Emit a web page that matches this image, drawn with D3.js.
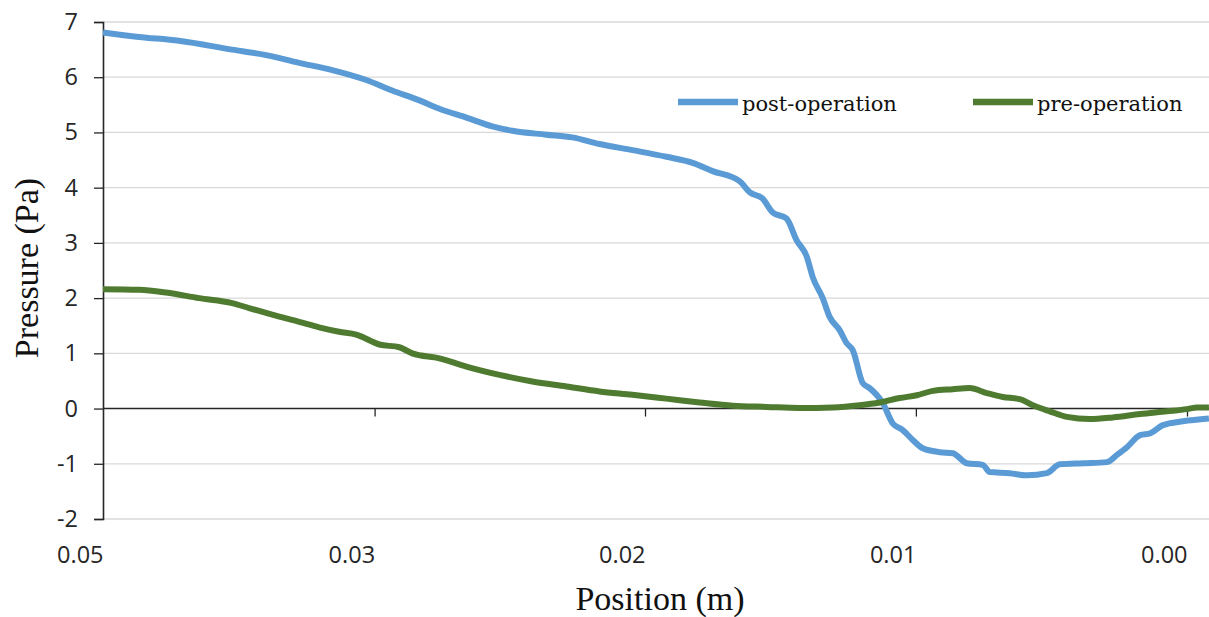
<!DOCTYPE html>
<html>
<head>
<meta charset="utf-8">
<script src="https://cdn.jsdelivr.net/npm/d3@7"></script>
<style>
body { margin: 0; background: #fff; }
svg { display: block; }
</style>
</head>
<body>
<svg id="chart" width="1209" height="617"></svg>
<script>
// positions (m) and pressures (Pa)
const postPos = [0.04550, 0.04399, 0.04231, 0.04008, 0.03865, 0.03727, 0.03588, 0.03445, 0.03336, 0.03222,
  0.03138, 0.03025, 0.02916, 0.02832, 0.02689, 0.02580, 0.02466, 0.02328, 0.02185, 0.02075,
  0.01991, 0.01878, 0.01836, 0.01781, 0.01739, 0.01681, 0.01639, 0.01596, 0.01571, 0.01529,
  0.01500, 0.01458, 0.01428, 0.01403, 0.01361, 0.01332, 0.01277, 0.01235, 0.01193, 0.01151,
  0.01109, 0.01038, 0.00983, 0.00924, 0.00857, 0.00828, 0.00744, 0.00672, 0.00588, 0.00534,
  0.00437, 0.00336, 0.00294, 0.00252, 0.00197, 0.00155, 0.00101, 0.00017, -0.00092];
const postP = [6.81, 6.73, 6.66, 6.50, 6.40, 6.26, 6.13, 5.95, 5.76, 5.58,
  5.43, 5.27, 5.11, 5.03, 4.96, 4.91, 4.79, 4.68, 4.56, 4.45,
  4.30, 4.12, 3.92, 3.80, 3.55, 3.44, 3.05, 2.75, 2.38, 2.00,
  1.66, 1.42, 1.18, 1.06, 0.46, 0.37, 0.10, -0.27, -0.39, -0.57,
  -0.72, -0.79, -0.81, -0.99, -1.02, -1.15, -1.17, -1.21, -1.17, -1.01,
  -0.99, -0.97, -0.84, -0.70, -0.48, -0.45, -0.30, -0.23, -0.18];

const prePos = [0.04550, 0.04399, 0.04285, 0.04147, 0.04008, 0.03937, 0.03840, 0.03727, 0.03643, 0.03559,
  0.03487, 0.03390, 0.03306, 0.03252, 0.03138, 0.03025, 0.02886, 0.02748, 0.02605, 0.02466,
  0.02328, 0.02185, 0.02046, 0.01907, 0.01765, 0.01626, 0.01487, 0.01374, 0.01290, 0.01206,
  0.01134, 0.01067, 0.00983, 0.00912, 0.00840, 0.00773, 0.00702, 0.00647, 0.00576, 0.00504,
  0.00408, 0.00311, 0.00197, 0.00084, 0.00000, -0.00042, -0.00092];
const preP = [2.16, 2.15, 2.10, 2.00, 1.91, 1.82, 1.70, 1.57, 1.47, 1.39,
  1.34, 1.16, 1.11, 1.00, 0.91, 0.76, 0.61, 0.49, 0.40, 0.31,
  0.25, 0.18, 0.11, 0.05, 0.03, 0.01, 0.02, 0.06, 0.11, 0.19,
  0.24, 0.32, 0.35, 0.37, 0.28, 0.21, 0.17, 0.06, -0.05, -0.15,
  -0.19, -0.16, -0.10, -0.05, -0.01, 0.02, 0.02];

const xTickVals = [0.0455, 0.0341, 0.02275, 0.01138, 0];
const xTickLabels = ["0.05", "0.03", "0.02", "0.01", "0.00"];
const yTickVals = [-2, -1, 0, 1, 2, 3, 4, 5, 6, 7];

const seriesNames = ["post-operation", "pre-operation"];
const seriesColors = ["#5b9bd5", "#4e7b2f"];

const svg = d3.select("#chart");
const mLeft = 103, mRight = 1187, mTop = 22, mBottom = 519, plotRight = 1209;

const x = d3.scaleLinear().domain([0.0455, 0]).range([mLeft, mRight]);
const y = d3.scaleLinear().domain([-2, 7]).range([mBottom, mTop]);

// gridlines
svg.append("g")
  .selectAll("line")
  .data(yTickVals.filter(d => d !== 0))
  .join("line")
  .attr("x1", mLeft).attr("x2", plotRight)
  .attr("y1", d => y(d)).attr("y2", d => y(d))
  .attr("stroke", "#d9d9d9").attr("stroke-width", 1.3);

// y axis
let yAxis = svg.append("g")
  .attr("transform", `translate(${mLeft},0)`)
  .call(d3.axisLeft(y).tickValues(yTickVals).tickSize(9).tickPadding(16).tickFormat(d => String(d)));
yAxis.select(".domain").attr("stroke", "#262626").attr("stroke-width", 1.6);
yAxis.selectAll(".tick line").attr("stroke", "#262626").attr("stroke-width", 1.3);
yAxis.selectAll("text").attr("font-family", "Open Sans").attr("font-size", 23.5).attr("fill", "#262626");

// x axis line at zero, ticks pointing down
let xAxis = svg.append("g")
  .attr("transform", `translate(0,${y(0)})`)
  .call(d3.axisBottom(x).tickValues(xTickVals.slice(1)).tickSize(8).tickFormat(""));
xAxis.select(".domain").remove();
xAxis.append("line")
  .attr("x1", mLeft).attr("x2", plotRight)
  .attr("stroke", "#262626").attr("stroke-width", 1.6);
xAxis.selectAll(".tick line").attr("stroke", "#262626").attr("stroke-width", 1.3);

// x labels below plot, right-aligned to their ticks
let xLab = svg.append("g")
  .attr("transform", `translate(0,${mBottom})`)
  .call(d3.axisBottom(x).tickValues(xTickVals).tickSize(0).tickPadding(27)
    .tickFormat((d, i) => xTickLabels[i]));
xLab.select(".domain").remove();
xLab.selectAll("text")
  .attr("text-anchor", "end")
  .attr("font-family", "Open Sans").attr("font-size", 23.5).attr("fill", "#262626");

// lines
const line = d3.line().x(d => x(d[0])).y(d => y(d[1])).curve(d3.curveMonotoneX);
const series = [
  d3.zip(postPos, postP),
  d3.zip(prePos, preP)
];
svg.append("g")
  .selectAll("path")
  .data(series)
  .join("path")
  .attr("d", line)
  .attr("fill", "none")
  .attr("stroke", (d, i) => seriesColors[i])
  .attr("stroke-width", 6)
  .attr("stroke-linejoin", "round");

// legend
const legendX = [678, 973];
const lg = svg.append("g")
  .selectAll("g")
  .data(seriesNames)
  .join("g")
  .attr("transform", (d, i) => `translate(${legendX[i]},102)`);
lg.append("line")
  .attr("x1", 0).attr("x2", 60)
  .attr("stroke", (d, i) => seriesColors[i])
  .attr("stroke-width", 6.5);
lg.append("text")
  .attr("x", 64).attr("y", 9)
  .attr("font-family", "DejaVu Serif").attr("font-size", 21)
  .attr("fill", "#111")
  .text(d => d);

// axis titles
svg.append("text")
  .attr("transform", "translate(38,268) rotate(-90)")
  .attr("text-anchor", "middle")
  .attr("font-family", "Liberation Serif").attr("font-size", 34)
  .attr("fill", "#111")
  .text("Pressure (Pa)");

svg.append("text")
  .attr("x", 660).attr("y", 610)
  .attr("text-anchor", "middle")
  .attr("font-family", "Liberation Serif").attr("font-size", 34)
  .attr("fill", "#111")
  .text("Position (m)");
</script>
</body>
</html>
